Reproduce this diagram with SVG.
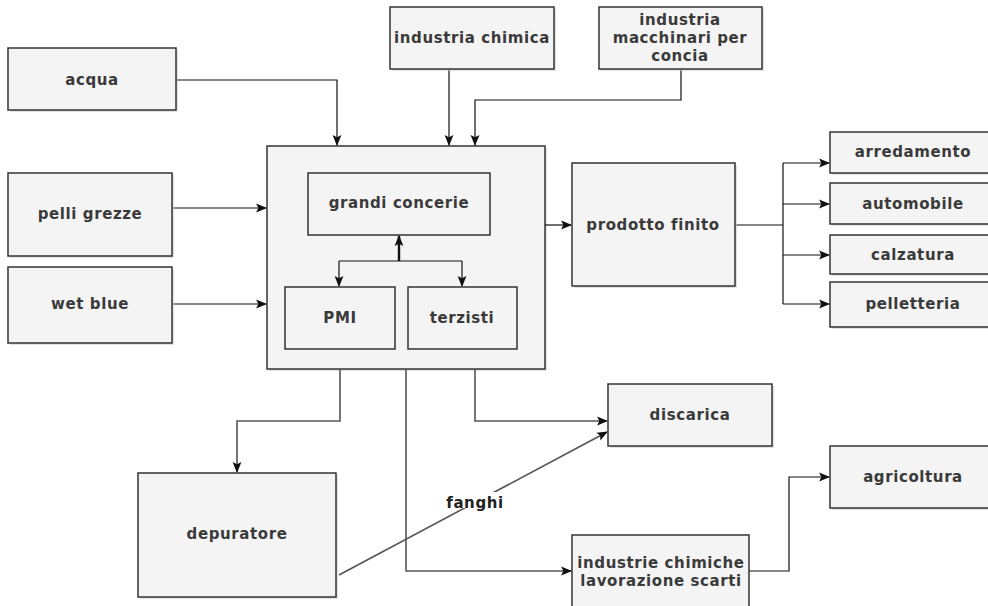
<svg xmlns="http://www.w3.org/2000/svg" width="988" height="606" viewBox="0 0 988 606">
<style>
.box{fill:#f4f4f4;stroke:#333;stroke-width:1.5}
.sh{fill:#cfcfcf;opacity:0.6}
.t{font-family:"DejaVu Sans",Verdana,sans-serif;font-weight:bold;font-size:15px;fill:#3a3a3a;text-anchor:middle;letter-spacing:0.6px}
.c{fill:none;stroke:#111;stroke-width:1.2}
.g{fill:none;stroke:#555;stroke-width:1.6}
.k{fill:none;stroke:#111;stroke-width:2.4}
</style>
<defs>
<marker id="a" viewBox="0 0 10 10" refX="9" refY="5" markerWidth="11" markerHeight="11" markerUnits="userSpaceOnUse" orient="auto"><path d="M0,1 L10,5 L0,9 L2,5 z" fill="#111"/></marker>
</defs>
<rect width="988" height="606" fill="#fff"/>

<g id="n-big"><rect class="sh" x="269" y="148" width="278" height="223"/><rect class="box" x="267" y="146" width="278" height="223"/></g>

<g id="connectors">
<path class="c" d="M176,80 H337 V145" marker-end="url(#a)"/>
<path class="c" d="M449,69 V145" marker-end="url(#a)"/>
<path class="c" d="M681,69 V100 H475 V145" marker-end="url(#a)"/>
<path class="c" d="M172,208 H266" marker-end="url(#a)"/>
<path class="c" d="M172,304 H266" marker-end="url(#a)"/>
<path class="k" d="M399,261 V236" marker-end="url(#a)"/>
<path class="c" d="M339,261 H462"/>
<path class="c" d="M339,261 V286" marker-end="url(#a)"/>
<path class="c" d="M462,261 V286" marker-end="url(#a)"/>
<path class="c" d="M545,225 H571" marker-end="url(#a)"/>
<path class="c" d="M735,225 H783"/>
<path class="c" d="M783,163 V304"/>
<path class="c" d="M783,163 H829" marker-end="url(#a)"/>
<path class="c" d="M783,204 H829" marker-end="url(#a)"/>
<path class="c" d="M783,255 H829" marker-end="url(#a)"/>
<path class="c" d="M783,304 H829" marker-end="url(#a)"/>
<path class="g" d="M340,369 V421 H237 V472" marker-end="url(#a)"/>
<path class="g" d="M406,369 V571 H571" marker-end="url(#a)"/>
<path class="g" d="M475,369 V421 H607" marker-end="url(#a)"/>
<path class="g" d="M339,575 L607,432" marker-end="url(#a)"/>
<rect x="448" y="492" width="54" height="16" fill="#fff"/>
<text class="t" x="475" y="508" style="fill:#222">fanghi</text>
<path class="c" d="M749,571 H789 V477 H829" marker-end="url(#a)"/>
</g>

<g id="n-acqua"><rect class="sh" x="10" y="50" width="168" height="62"/><rect class="box" x="8" y="48" width="168" height="62"/><text class="t" x="92" y="85">acqua</text></g>
<g id="n-pelli"><rect class="sh" x="10" y="175" width="164" height="83"/><rect class="box" x="8" y="173" width="164" height="83"/><text class="t" x="90" y="219">pelli grezze</text></g>
<g id="n-wet"><rect class="sh" x="10" y="269" width="164" height="76"/><rect class="box" x="8" y="267" width="164" height="76"/><text class="t" x="90" y="309">wet blue</text></g>
<g id="n-chimica"><rect class="sh" x="392" y="9" width="164" height="62"/><rect class="box" x="390" y="7" width="164" height="62"/><text class="t" x="472" y="43">industria chimica</text></g>
<g id="n-macchinari"><rect class="sh" x="601" y="9" width="163" height="62"/><rect class="box" x="599" y="7" width="163" height="62"/><text class="t" x="680" y="25">industria</text><text class="t" x="680" y="43">macchinari per</text><text class="t" x="680" y="61">concia</text></g>
<g id="n-grandi"><rect class="box" x="308" y="173" width="182" height="62"/><text class="t" x="399" y="208">grandi concerie</text></g>
<g id="n-pmi"><rect class="box" x="285" y="287" width="110" height="62"/><text class="t" x="340" y="323">PMI</text></g>
<g id="n-terzisti"><rect class="box" x="408" y="287" width="109" height="62"/><text class="t" x="462" y="323">terzisti</text></g>
<g id="n-prodotto"><rect class="sh" x="574" y="165" width="163" height="123"/><rect class="box" x="572" y="163" width="163" height="123"/><text class="t" x="653" y="230">prodotto finito</text></g>
<g id="n-arredamento"><rect class="sh" x="832" y="134" width="160" height="41"/><rect class="box" x="830" y="132" width="160" height="41"/><text class="t" x="913" y="157">arredamento</text></g>
<g id="n-automobile"><rect class="sh" x="832" y="185" width="160" height="41"/><rect class="box" x="830" y="183" width="160" height="41"/><text class="t" x="913" y="209">automobile</text></g>
<g id="n-calzatura"><rect class="sh" x="832" y="237" width="160" height="39"/><rect class="box" x="830" y="235" width="160" height="39"/><text class="t" x="913" y="260">calzatura</text></g>
<g id="n-pelletteria"><rect class="sh" x="832" y="284" width="160" height="45"/><rect class="box" x="830" y="282" width="160" height="45"/><text class="t" x="913" y="309">pelletteria</text></g>
<g id="n-discarica"><rect class="sh" x="610" y="386" width="164" height="62"/><rect class="box" x="608" y="384" width="164" height="62"/><text class="t" x="690" y="420">discarica</text></g>
<g id="n-agricoltura"><rect class="sh" x="832" y="448" width="160" height="62"/><rect class="box" x="830" y="446" width="160" height="62"/><text class="t" x="913" y="482">agricoltura</text></g>
<g id="n-depuratore"><rect class="sh" x="140" y="475" width="198" height="124"/><rect class="box" x="138" y="473" width="198" height="124"/><text class="t" x="237" y="539">depuratore</text></g>
<g id="n-indchim"><rect class="box" x="572" y="535" width="177" height="80"/><text class="t" x="661" y="568">industrie chimiche</text><text class="t" x="661" y="586">lavorazione scarti</text></g>
</svg>
